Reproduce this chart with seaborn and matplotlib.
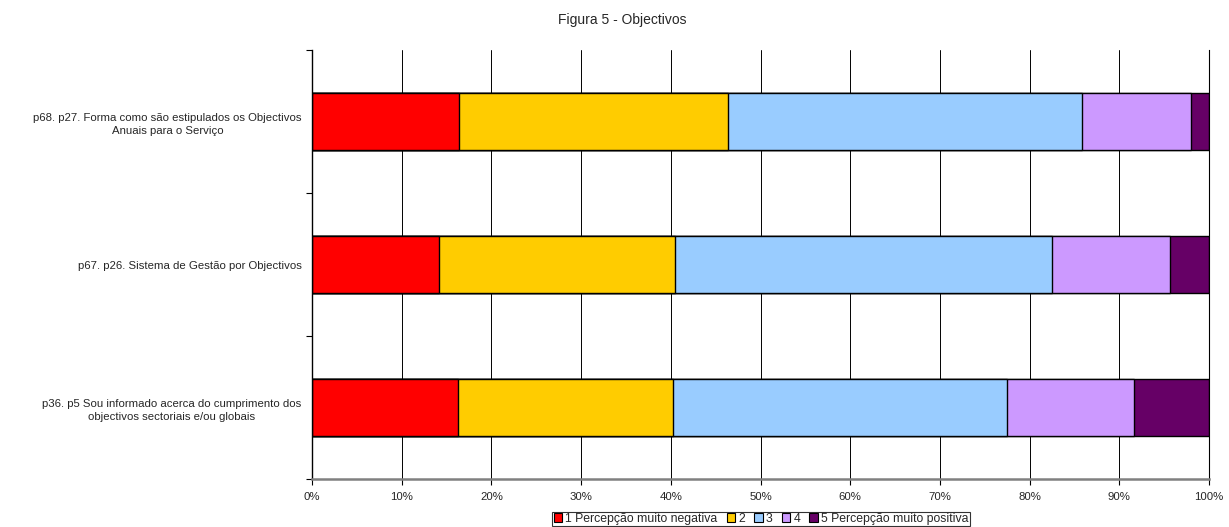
import matplotlib
matplotlib.use("Agg")
import matplotlib.pyplot as plt
from matplotlib.patches import Patch
from matplotlib.ticker import FuncFormatter
import numpy as np
import pandas as pd
import seaborn as sns

# Survey items (top to bottom) and share of answers per scale level (%)
items = [
    "p68. p27. Forma como são estipulados os Objectivos\nAnuais para o Serviço",
    "p67. p26. Sistema de Gestão por Objectivos",
    "p36. p5 Sou informado acerca do cumprimento dos\nobjectivos sectoriais e/ou globais",
]
levels = ["1 Percepção muito negativa", "2", "3", "4", "5 Percepção muito positiva"]
level_1 = [16.4, 14.2, 16.3]
level_2 = [30.0, 26.3, 24.0]
level_3 = [39.4, 42.0, 37.2]
level_4 = [12.2, 13.1, 14.1]
level_5 = [2.0, 4.4, 8.4]
colors = ["#FF0000", "#FFCC00", "#99CCFF", "#CC99FF", "#660066"]
title = "Figura 5 - Objectivos"

FS = 8.2
sns.set_style("white")
plt.rcParams["font.family"] = ["Liberation Sans", "DejaVu Sans"]
plt.rcParams["font.size"] = FS

series = np.array([level_1, level_2, level_3, level_4, level_5])
cumulative = series.cumsum(axis=0)

W, H = 1229, 527
fig = plt.figure(figsize=(W / 100, H / 100), dpi=100)
ax = fig.add_axes([312 / W, 1 - 479 / H, 897 / W, 429 / H])

# Stacked bars: draw cumulative totals from the outermost segment inwards
for k in range(len(levels) - 1, -1, -1):
    df = pd.DataFrame({"item": items, "value": cumulative[k]})
    sns.barplot(data=df, x="value", y="item", orient="h", color=colors[k],
                saturation=1, width=0.4, edgecolor="black", linewidth=1.0,
                ax=ax, zorder=2)

ax.set_xlim(0, 100)
ax.set_ylim(2.5, -0.5)
ax.set_xlabel("")
ax.set_ylabel("")
ax.set_xticks(np.arange(0, 101, 10))
ax.xaxis.set_major_formatter(FuncFormatter(lambda v, _: f"{v:.0f}%"))
ax.xaxis.grid(True, color="black", linewidth=0.7)
ax.yaxis.grid(False)
ax.set_axisbelow(True)

ax.tick_params(axis="x", which="major", bottom=True, length=4, width=0.8,
               color="black", labelsize=FS, pad=5)
ax.tick_params(axis="y", which="major", left=False, labelsize=FS, pad=4)
ax.set_yticks([-0.5, 0.5, 1.5, 2.5], minor=True)
ax.tick_params(axis="y", which="minor", left=True, length=4, width=0.8, color="black")
for t in ax.get_yticklabels():
    t.set_multialignment("center")
    t.set_linespacing(1.45)

ax.spines["top"].set_visible(False)
ax.spines["right"].set_visible(True)
ax.spines["right"].set_color("black")
ax.spines["right"].set_linewidth(0.8)
ax.spines["left"].set_color("black")
ax.spines["left"].set_linewidth(1.0)
ax.spines["bottom"].set_color("#808080")
ax.spines["bottom"].set_linewidth(1.8)

fig.text(622 / W, 1 - 20 / H, title, ha="center", va="center", fontsize=10)

handles = [Patch(facecolor=c, edgecolor="black", linewidth=0.8) for c in colors]
leg = fig.legend(handles, levels, loc="center", bbox_to_anchor=(761 / W, 1 - 519 / H),
                 ncol=5, fontsize=8.8, frameon=True, fancybox=False,
                 handlelength=0.7, handleheight=0.7, handletextpad=0.25,
                 columnspacing=0.75, borderpad=0.1, borderaxespad=0)
leg.get_frame().set_edgecolor("black")
leg.get_frame().set_linewidth(0.8)

fig.savefig("out.png", dpi=100)
